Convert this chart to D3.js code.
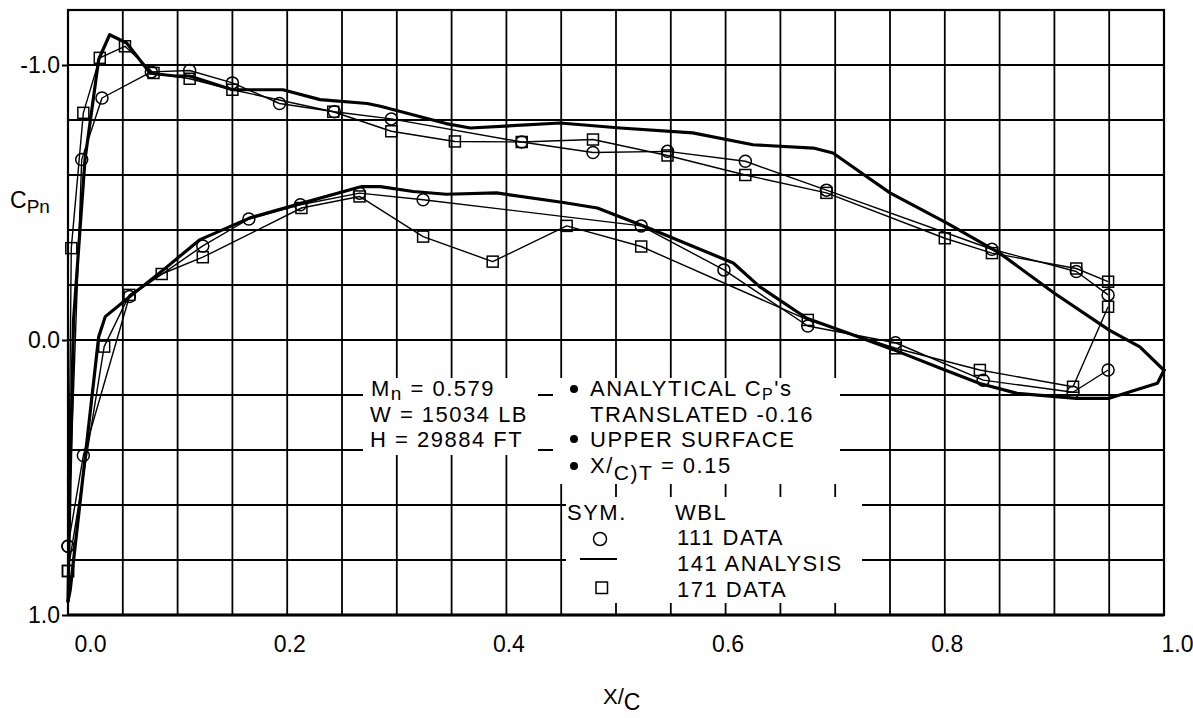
<!DOCTYPE html>
<html>
<head>
<meta charset="utf-8">
<script src="https://cdn.jsdelivr.net/npm/d3@7"></script>
<style>
    body { margin: 0; background: #fff; }
    svg text { font-family: "Liberation Sans", Arial, Helvetica, sans-serif; fill: #000; }
</style>
</head>
<body>
<div id="chart"></div>
<script>
// tick labels
const xTicks = [0.0, 0.2, 0.4, 0.6, 0.8, 1.0];
const yTicks = [-1.0, 0.0, 1.0];

// WBL 111 data (circles), [x/c, Cpn]
const wbl111Upper = [[0.000, 0.75], [0.0125, -0.656], [0.031, -0.88], [0.076, -0.975], [0.111, -0.98],
    [0.150, -0.935], [0.193, -0.86], [0.243, -0.83], [0.295, -0.804], [0.414, -0.72], [0.479, -0.682],
    [0.547, -0.686], [0.618, -0.65], [0.692, -0.545], [0.843, -0.33], [0.920, -0.249], [0.949, -0.164]];
const wbl111Lower = [[0.000, 0.75], [0.014, 0.42], [0.056, -0.158], [0.123, -0.342], [0.165, -0.44],
    [0.212, -0.492], [0.266, -0.534], [0.324, -0.51], [0.523, -0.415], [0.5985, -0.255], [0.675, -0.051],
    [0.755, 0.01], [0.835, 0.146], [0.917, 0.19], [0.949, 0.109]];

// WBL 171 data (squares)
const wbl171Upper = [[0.000, 0.84], [0.003, -0.334], [0.014, -0.826], [0.029, -1.026], [0.052, -1.068],
    [0.078, -0.971], [0.111, -0.95], [0.150, -0.91], [0.242, -0.83], [0.295, -0.759], [0.353, -0.722],
    [0.414, -0.72], [0.479, -0.729], [0.547, -0.671], [0.618, -0.60], [0.692, -0.535], [0.800, -0.37],
    [0.843, -0.316], [0.920, -0.26], [0.949, -0.212]];
const wbl171Lower = [[0.000, 0.84], [0.033, 0.024], [0.056, -0.164], [0.0855, -0.24], [0.123, -0.301],
    [0.213, -0.48], [0.266, -0.522], [0.324, -0.376], [0.3875, -0.285], [0.455, -0.415], [0.523, -0.34],
    [0.675, -0.073], [0.755, 0.03], [0.832, 0.109], [0.917, 0.17], [0.949, -0.121]];

// WBL 141 analysis (thick line)
const wbl141Upper = [[0.000, 0.95], [0.002, 0.5], [0.005, -0.07], [0.0155, -0.656], [0.028, -1.02],
    [0.038, -1.11], [0.0535, -1.08], [0.075, -0.97], [0.098, -0.96], [0.111, -0.96], [0.150, -0.91],
    [0.196, -0.91], [0.230, -0.874], [0.273, -0.86], [0.285, -0.85], [0.345, -0.787], [0.367, -0.771],
    [0.449, -0.789], [0.504, -0.771], [0.570, -0.753], [0.625, -0.71], [0.680, -0.698], [0.698, -0.68],
    [0.723, -0.61], [0.750, -0.535], [0.802, -0.425], [0.850, -0.316], [0.900, -0.17], [0.950, -0.036],
    [0.978, 0.025], [1.000, 0.11]];
const wbl141Lower = [[1.000, 0.11], [0.994, 0.157], [0.950, 0.212], [0.920, 0.212], [0.866, 0.194],
    [0.832, 0.158], [0.796, 0.103], [0.753, 0.035], [0.7165, -0.018], [0.674, -0.079], [0.631, -0.194],
    [0.607, -0.28], [0.528, -0.41], [0.483, -0.48], [0.452, -0.50], [0.391, -0.535], [0.345, -0.53],
    [0.315, -0.54], [0.285, -0.558], [0.268, -0.558], [0.212, -0.496], [0.166, -0.444], [0.120, -0.364],
    [0.087, -0.255], [0.057, -0.16], [0.034, -0.085], [0.028, -0.012], [0.002, 0.91], [0.000, 0.95]];

const width = 1193, height = 718;
const margin = {top: 10, right: 29, bottom: 103, left: 68};

const x = d3.scaleLinear().domain([0, 1]).range([margin.left, width - margin.right]);
const y = d3.scaleLinear().domain([-1.2, 1.0]).range([margin.top, height - margin.bottom]);

const svg = d3.select("#chart").append("svg")
    .attr("width", width)
    .attr("height", height);

// grid: x every 0.05, Cp every 0.2
const gx = d3.range(0, 21).map(i => i * 0.05);
const gy = d3.range(0, 12).map(i => -1.2 + i * 0.2);

const grid = svg.append("g")
    .attr("stroke", "#000")
    .attr("stroke-width", 1.8);
grid.selectAll("line.v").data(gx).join("line")
    .attr("class", "v")
    .attr("x1", d => x(d)).attr("x2", d => x(d))
    .attr("y1", y(-1.2)).attr("y2", y(1.0));
grid.selectAll("line.h").data(gy).join("line")
    .attr("class", "h")
    .attr("x1", x(0)).attr("x2", x(1))
    .attr("y1", d => y(d)).attr("y2", d => y(d));

// border
svg.append("rect")
    .attr("x", x(0)).attr("y", y(-1.2))
    .attr("width", x(1) - x(0)).attr("height", y(1.0) - y(-1.2))
    .attr("fill", "none").attr("stroke", "#000").attr("stroke-width", 2.2);
svg.append("line")
    .attr("x1", x(0)).attr("x2", x(1))
    .attr("y1", y(1.0)).attr("y2", y(1.0))
    .attr("stroke", "#000").attr("stroke-width", 3.2);

// white backing for the note blocks
const boxes = [
    {x0: 363, y0: 378, x1: 538, y1: 455},
    {x0: 553, y0: 378, x1: 840, y1: 484},
    {x0: 566, y0: 497, x1: 862, y1: 603}
];
svg.append("g").selectAll("rect").data(boxes).join("rect")
    .attr("x", d => d.x0).attr("y", d => d.y0)
    .attr("width", d => d.x1 - d.x0).attr("height", d => d.y1 - d.y0)
    .attr("fill", "#fff");

// axes
const xAxis = svg.append("g")
    .attr("transform", `translate(0,${y(1.0)})`)
    .call(d3.axisBottom(x).tickValues(xTicks).tickSize(0).tickPadding(21)
        .tickFormat(d => d.toFixed(1)));
xAxis.select(".domain").remove();
xAxis.selectAll("text")
    .attr("font-size", 23)
    .attr("dx", d => d === 0 ? 22 : d === 1 ? 13 : 2);

const yAxis = svg.append("g")
    .attr("transform", `translate(${x(0)},0)`)
    .call(d3.axisLeft(y).tickValues(yTicks).tickSize(6).tickPadding(2)
        .tickFormat(d => d.toFixed(1)));
yAxis.select(".domain").remove();
yAxis.selectAll("line").attr("stroke-width", 2);
yAxis.selectAll("text").attr("font-size", 23);

// axis titles
const cpLabel = svg.append("text").attr("x", 10).attr("y", 208).attr("font-size", 23).text("C");
cpLabel.append("tspan").attr("font-size", 19).attr("dy", 5).text("Pn");

const xcLabel = svg.append("text").attr("x", 603).attr("y", 704).attr("font-size", 22).text("X/");
xcLabel.append("tspan").attr("font-size", 23).attr("dy", 6).text("C");

// data
const line = d3.line().x(d => x(d[0])).y(d => y(d[1]));

const thin = svg.append("g")
    .attr("fill", "none")
    .attr("stroke", "#000")
    .attr("stroke-width", 1.4)
    .attr("stroke-linejoin", "round");
[wbl111Upper, wbl111Lower, wbl171Upper, wbl171Lower].forEach(s => {
    thin.append("path").attr("d", line(s));
});

svg.append("g")
    .attr("fill", "none")
    .attr("stroke", "#000")
    .attr("stroke-width", 3.2)
    .attr("stroke-linejoin", "round")
    .attr("stroke-linecap", "round")
    .selectAll("path")
    .data([wbl141Upper, wbl141Lower])
    .join("path")
    .attr("d", d => line(d));

const marks = svg.append("g")
    .attr("fill", "none")
    .attr("stroke", "#000")
    .attr("stroke-width", 1.5);
marks.selectAll("circle")
    .data(wbl111Upper.concat(wbl111Lower))
    .join("circle")
    .attr("cx", d => x(d[0]))
    .attr("cy", d => y(d[1]))
    .attr("r", 6);
marks.selectAll("rect")
    .data(wbl171Upper.concat(wbl171Lower))
    .join("rect")
    .attr("x", d => x(d[0]) - 5.5)
    .attr("y", d => y(d[1]) - 5.5)
    .attr("width", 11)
    .attr("height", 11);

// notes
const note = svg.append("g")
    .attr("font-size", 22)
    .attr("letter-spacing", 1.5);

const t1 = note.append("text").attr("x", 371).attr("y", 396).text("M");
t1.append("tspan").attr("font-size", 19).attr("dy", 4).text("n");
t1.append("tspan").attr("dy", -4).text(" = 0.579");
note.append("text").attr("x", 370).attr("y", 422).text("W = 15034 LB");
note.append("text").attr("x", 370).attr("y", 447).text("H = 29884 FT");

const t2 = note.append("text").attr("x", 590).attr("y", 396).text("ANALYTICAL C");
t2.append("tspan").attr("font-size", 16).attr("dy", 4).text("P");
t2.append("tspan").attr("dy", -4).text("'s");
note.append("text").attr("x", 590).attr("y", 422).text("TRANSLATED -0.16");
note.append("text").attr("x", 590).attr("y", 447).text("UPPER  SURFACE");
const t4 = note.append("text").attr("x", 590).attr("y", 473).text("X/");
t4.append("tspan").attr("font-size", 21).attr("dy", 7).text("C)T");
t4.append("tspan").attr("dy", -7).text(" = 0.15");

svg.append("g").selectAll("circle")
    .data([389, 439, 466])
    .join("circle")
    .attr("cx", 574).attr("cy", d => d).attr("r", 4)
    .attr("fill", "#000");

// legend
note.append("text").attr("x", 567).attr("y", 520).text("SYM.");
note.append("text").attr("x", 675).attr("y", 520).text("WBL");
note.append("text").attr("x", 677).attr("y", 545).text("111  DATA");
note.append("text").attr("x", 677).attr("y", 571).text("141  ANALYSIS");
note.append("text").attr("x", 677).attr("y", 596.5).text("171  DATA");

const leg = svg.append("g").attr("fill", "none").attr("stroke", "#000").attr("stroke-width", 1.5);
leg.append("circle").attr("cx", 600).attr("cy", 539).attr("r", 6.5);
leg.append("line").attr("x1", 580).attr("x2", 617).attr("y1", 559).attr("y2", 559).attr("stroke-width", 2);
leg.append("rect").attr("x", 596).attr("y", 582).attr("width", 11.5).attr("height", 11.5);
</script>
</body>
</html>
